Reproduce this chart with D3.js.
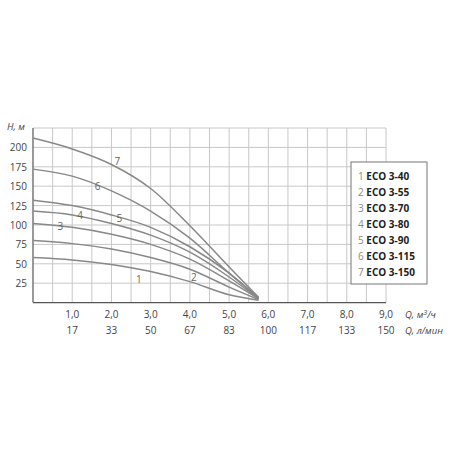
<!DOCTYPE html><html><head><meta charset="utf-8"><script src="https://cdn.jsdelivr.net/npm/d3@7"></script>
<style>body{margin:0;background:#fff}text{font-family:"Open Sans",sans-serif}</style></head><body><svg id="c" width="450" height="450"></svg><script>
const qTicks=[1,2,3,4,5,6,7,8,9];
const qLabels=["1,0","2,0","3,0","4,0","5,0","6,0","7,0","8,0","9,0"];
const lminLabels=["17","33","50","67","83","100","117","133","150"];
const hTicks=[25,50,75,100,125,150,175,200];
const qPts=[0,1,2,3,4,5,5.75];
const h1=[58,55,49,40,27,10,3];
const h2=[80,76,69,58,43,20,4];
const h3=[102,97,88,75,56,28,5];
const h4=[118,113,102,87,65,33,5];
const h5=[132,125,113,97,72,38,6];
const h6=[172,163,144,118,83,38,6];
const h7=[212,198,178,147,99,46,7];
const names=["ECO 3-40","ECO 3-55","ECO 3-70","ECO 3-80","ECO 3-90","ECO 3-115","ECO 3-150"];
const labelPos=[[2.7,30],[4.1,33],[0.7,99],[1.2,113],[2.2,109],[1.65,150],[2.15,182]];
const series=[h1,h2,h3,h4,h5,h6,h7];
const svg=d3.select("#c");
const x=d3.scaleLinear().domain([0,9]).range([33,386]);
const y=d3.scaleLinear().domain([0,225]).range([302.6,128]);
const g=svg.append("g");
g.selectAll(".vg").data(d3.range(0.5,9.01,0.5)).join("line").attr("x1",d=>x(d)).attr("x2",d=>x(d)).attr("y1",y(0)).attr("y2",y(225)).attr("stroke","#c8c8c8");
g.selectAll(".hg").data(d3.range(25,226,25)).join("line").attr("x1",x(0)).attr("x2",x(9)).attr("y1",d=>y(d)).attr("y2",d=>y(d)).attr("stroke","#c8c8c8");
g.append("line").attr("x1",x(0)).attr("x2",x(0)).attr("y1",y(0)).attr("y2",y(225)).attr("stroke","#555").attr("stroke-width",1.2);
g.append("line").attr("x1",x(0)).attr("x2",x(9)).attr("y1",y(0)).attr("y2",y(0)).attr("stroke","#555").attr("stroke-width",1.2);
g.selectAll(".yt").data(hTicks).join("text").attr("x",27).attr("y",d=>y(d)+4).attr("text-anchor","end").attr("font-size",10).attr("fill","#444").text(d=>d);
g.selectAll(".xt").data(qTicks).join("text").attr("x",d=>x(d)).attr("y",318).attr("text-anchor","middle").attr("font-size",10).attr("fill","#444").text((d,i)=>qLabels[i]);
g.selectAll(".xt2").data(qTicks).join("text").attr("x",d=>x(d)).attr("y",334).attr("text-anchor","middle").attr("font-size",10).attr("fill","#444").text((d,i)=>lminLabels[i]);
g.append("text").attr("x",7).attr("y",130).attr("font-size",9.5).attr("font-style","italic").attr("fill","#444").text("H, м");
g.append("text").attr("x",405).attr("y",318).attr("font-size",9.5).attr("font-style","italic").attr("fill","#444").html("Q, м<tspan dy='-3' font-size='7'>3</tspan><tspan dy='3'>/ч</tspan>");
g.append("text").attr("x",405).attr("y",334).attr("font-size",9.5).attr("font-style","italic").attr("fill","#444").text("Q, л/мин");
const line=d3.line().x((d,i)=>x(qPts[i])).y(d=>y(d)).curve(d3.curveMonotoneX);
g.selectAll(".cv").data(series).join("path").attr("d",line).attr("fill","none").attr("stroke","#888").attr("stroke-width",1.5);
g.selectAll(".lb").data(labelPos).join("text").attr("x",d=>x(d[0])).attr("y",d=>y(d[1])+4).attr("text-anchor","middle").attr("font-size",10).attr("fill","#666").text((d,i)=>i+1);
g.append("rect").attr("x",351).attr("y",162).attr("width",76).attr("height",122).attr("fill","#fff").attr("stroke","#777");
const lg=g.selectAll(".lg").data(names).join("text").attr("x",358).attr("y",(d,i)=>180+i*16).attr("font-size",10);
lg.append("tspan").attr("fill","#888").text((d,i)=>(i+1)+" ");
lg.append("tspan").attr("fill","#222").attr("font-weight","bold").text(d=>d);
</script></body></html>
